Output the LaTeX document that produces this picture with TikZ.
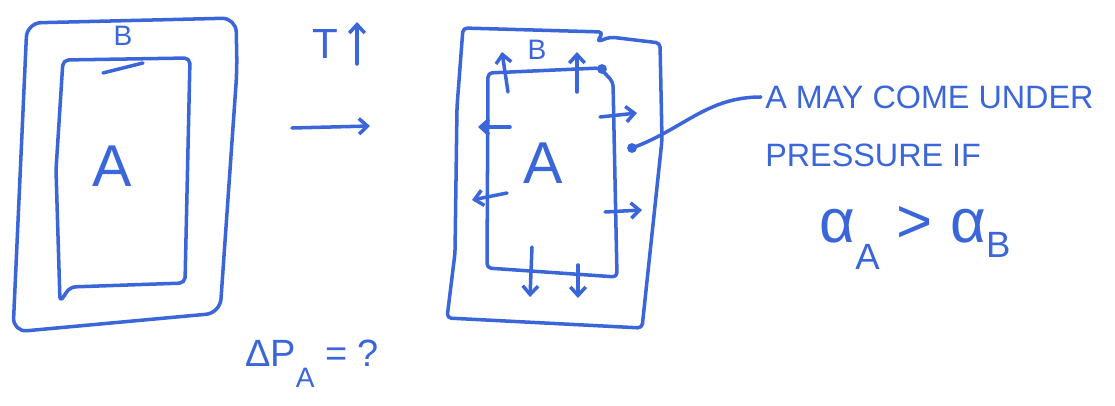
\documentclass[tikz,border=0pt]{standalone}
\usepackage{fontspec}
\setmainfont{Liberation Sans}
\usepackage{tikz}
\usetikzlibrary{arrows.meta,positioning}
\definecolor{penblue}{HTML}{3A66D9}

\begin{document}
\begin{tikzpicture}[x=0.025cm,y=-0.025cm,>={Straight Barb[length=6pt,width=11pt]}]
\tikzstyle{pen}=[draw=penblue,line width=2.5pt,line join=round,line cap=round]
\tikzstyle{ink}=[text=penblue,inner sep=0pt]
\useasboundingbox (0,0) rectangle (1115,406);
% before heating
\draw[pen,rounded corners=10pt] (13,332) -- (27,23) -- (236,18) -- (237,70) -- (220,313) -- cycle;
\draw[pen,rounded corners=4pt] (63,60) -- (190,58) -- (185,283) -- (70,287) -- (60,302) -- (56,170) -- cycle;
\draw[pen] (103,73) -- (143,63);
\node[ink,font=\fontsize{20}{20}\selectfont] (outerB) at (123,36) {B};
\node[ink,font=\fontsize{42}{42}\selectfont] (innerA) at (112,166) {A};
% heating step
\node[ink,font=\fontsize{30}{30}\selectfont] (temp) at (325,44) {T};
\draw[pen,->] (357,64) -- (357,22);
\draw[pen,->] (292,128) -- (370,126);
\node[ink,font=\fontsize{27}{27}\selectfont] (dpress) at (312,364) {ΔP\raisebox{-0.55em}{\fontsize{20}{20}\selectfont A} = ?};
% after heating
\draw[pen,rounded corners=3pt] (463,28) -- (603,32) -- (597,42) -- (610,37) -- (660,43) -- (662,140) -- (642,328) -- (447,318) -- (455,253) -- (457,107) -- cycle;
\draw[pen,rounded corners=3pt] (488,73) -- (600,68) -- (613,82) -- (617,277) -- (487,268) -- cycle;
\fill[penblue] (602,69) circle (3.5pt);
\node[ink,font=\fontsize{20}{20}\selectfont] (hotB) at (537,50) {B};
\node[ink,font=\fontsize{42}{42}\selectfont] (hotA) at (543,163) {A};
\draw[pen,->] (508,92) -- (502,52);
\draw[pen,->] (577,92) -- (577,52);
\draw[pen,->] (510,127) -- (478,127);
\draw[pen,->] (507,193) -- (472,200);
\draw[pen,->] (600,117) -- (637,113);
\draw[pen,->] (605,212) -- (642,210);
\draw[pen,->] (532,247) -- (530,297);
\draw[pen,->] (578,265) -- (578,298);
% remark
\node[ink,anchor=west,font=\fontsize{23}{23}\selectfont] (line1) at (765,97) {A MAY COME UNDER};
\node[ink,below=1.45cm of line1.west,anchor=west,font=\fontsize{23}{23}\selectfont] (line2) {PRESSURE IF};
\node[ink,font=\fontsize{44}{44}\selectfont] (cond) at (915,238) {α\raisebox{-0.45em}{\fontsize{26}{26}\selectfont A} > α\raisebox{-0.25em}{\fontsize{26}{26}\selectfont B}};
\coordinate (tip) at (632,148);
\fill[penblue] (tip) circle (3.5pt);
\draw[pen] ([xshift=-3pt]line1.west) to[out=180,in=20] (tip);
\end{tikzpicture}
\end{document}
